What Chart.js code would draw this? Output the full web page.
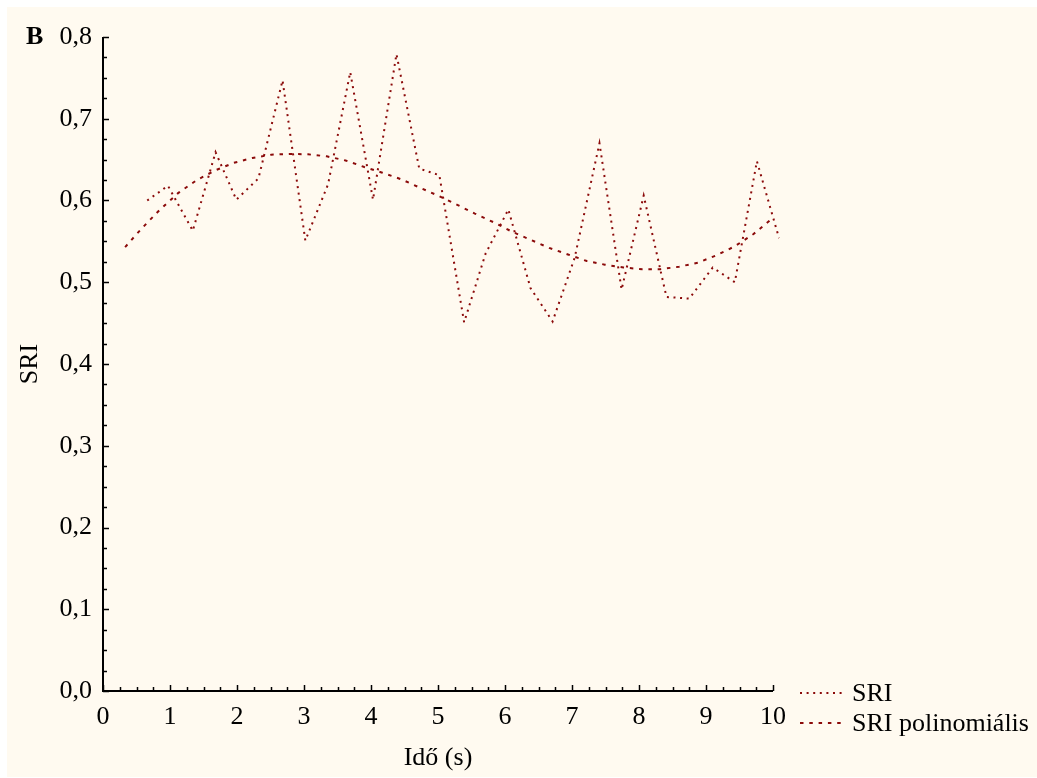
<!DOCTYPE html>
<html>
<head>
<meta charset="utf-8">
<script src="https://cdn.jsdelivr.net/npm/chart.js@4/dist/chart.umd.min.js"></script>
<style>
  html, body { margin: 0; padding: 0; background: #ffffff; }
  #frame {
    position: absolute;
    left: 7px;
    top: 7px;
    width: 1030px;
    height: 770px;
    background: #fffaf0;
  }
</style>
</head>
<body>
<div id="frame"><canvas id="sri-chart" width="1030" height="770"></canvas></div>
<script>
// SRI measured values (time in s)
const sriTime = [0.66, 0.97, 1.34, 1.68, 1.99, 2.32, 2.68, 3.02, 3.36, 3.69, 4.03, 4.38, 4.72, 5.02, 5.39,
  5.71, 6.05, 6.38, 6.71, 7.04, 7.41, 7.74, 8.07, 8.41, 8.75, 9.10, 9.43, 9.76, 10.09];
const sriValues = [0.600, 0.618, 0.563, 0.659, 0.601, 0.627, 0.747, 0.551, 0.620, 0.757, 0.601, 0.779, 0.639, 0.631, 0.451,
  0.535, 0.589, 0.493, 0.452, 0.530, 0.670, 0.491, 0.606, 0.482, 0.480, 0.518, 0.500, 0.648, 0.554];

// polynomial fit
const polyTime = [0.33, 0.58, 0.84, 1.12, 1.40, 1.68, 1.95, 2.23, 2.51, 2.78, 3.06, 3.34, 3.62, 3.90, 4.17, 4.45, 4.72, 5.00,
  5.28, 5.55, 5.84, 6.10, 6.38, 6.66, 6.94, 7.22, 7.49, 7.77, 8.05, 8.32, 8.60, 8.88, 9.16, 9.43, 9.71, 10.0];
const polyValues = [0.543, 0.566, 0.588, 0.609, 0.625, 0.637, 0.646, 0.652, 0.656, 0.657, 0.6565, 0.654, 0.649, 0.641, 0.634, 0.626, 0.616, 0.606,
  0.595, 0.584, 0.573, 0.562, 0.552, 0.542, 0.534, 0.526, 0.5215, 0.518, 0.516, 0.516, 0.519, 0.524, 0.533, 0.544, 0.559, 0.579];

const seriesLabels = ["SRI", "SRI polinomiális"];
const xTitle = "Idő (s)";
const yTitle = "SRI";
const panelLetter = "B";

const lineColor = "#8b0a0a";
const serif = "'Liberation Serif', 'Times New Roman', serif";

function toPoints(xs, ys) {
  return xs.map(function (t, i) {
    return { x: t, y: ys[i] };
  });
}

// inward ticks, axis lines, panel letter and legend
const decorPlugin = {
  id: "decor",
  afterDraw: function (chart) {
    const ctx = chart.ctx;
    const a = chart.chartArea;
    const xs = chart.scales.x;
    const ys = chart.scales.y;
    ctx.save();
    ctx.strokeStyle = "#000";
    ctx.lineWidth = 2;
    ctx.beginPath();
    ctx.moveTo(a.left, a.top);
    ctx.lineTo(a.left, a.bottom);
    ctx.lineTo(a.right, a.bottom);
    ctx.stroke();

    ctx.lineWidth = 1.5;
    ctx.beginPath();
    for (let i = 0; i <= 40; i++) {
      const px = Math.round(xs.getPixelForValue(i * 0.25)) + 0.5;
      const len = i % 4 === 0 ? 6 : 4;
      ctx.moveTo(px, a.bottom);
      ctx.lineTo(px, a.bottom - len);
    }
    for (let i = 0; i <= 32; i++) {
      const py = Math.round(ys.getPixelForValue(i * 0.025)) + 0.5;
      const len = i % 4 === 0 ? 6 : 4;
      ctx.moveTo(a.left, py);
      ctx.lineTo(a.left + len, py);
    }
    ctx.stroke();

    ctx.fillStyle = "#000";
    ctx.font = "bold 26px " + serif;
    ctx.textBaseline = "alphabetic";
    ctx.textAlign = "left";
    ctx.fillText(panelLetter, 19, 37);

    // legend
    const rows = [686, 716];
    chart.data.datasets.forEach(function (ds, i) {
      ctx.strokeStyle = ds.borderColor;
      ctx.lineWidth = 2;
      ctx.setLineDash(ds.borderDash);
      ctx.beginPath();
      ctx.moveTo(793, rows[i]);
      ctx.lineTo(836, rows[i]);
      ctx.stroke();
      ctx.setLineDash([]);
      ctx.fillStyle = "#000";
      ctx.font = "26px " + serif;
      ctx.textBaseline = "middle";
      ctx.fillText(ds.label, 845, rows[i] + 1);
    });
    ctx.restore();
  },
};

new Chart(document.getElementById("sri-chart"), {
  type: "scatter",
  data: {
    datasets: [
      {
        label: seriesLabels[0],
        data: toPoints(sriTime, sriValues),
        showLine: true,
        borderColor: lineColor,
        borderWidth: 2,
        borderDash: [2, 4.6],
        pointRadius: 0,
        clip: false,
      },
      {
        label: seriesLabels[1],
        data: toPoints(polyTime, polyValues),
        showLine: true,
        borderColor: lineColor,
        borderWidth: 2,
        borderDash: [3.5, 5.8],
        pointRadius: 0,
        clip: false,
      },
    ],
  },
  options: {
    responsive: false,
    animation: false,
    layout: { padding: { left: 0, top: 30, right: 264, bottom: 0 } },
    plugins: {
      legend: { display: false },
      tooltip: { enabled: false },
    },
    scales: {
      x: {
        type: "linear",
        min: 0,
        max: 10,
        grid: { display: false, drawTicks: false },
        border: { display: false },
        ticks: {
          stepSize: 1,
          padding: 11,
          color: "#000",
          maxRotation: 0,
          font: { family: serif, size: 26 },
        },
        title: {
          display: true,
          text: xTitle,
          color: "#000",
          font: { family: serif, size: 26 },
          padding: { top: 0, bottom: 3 },
        },
        afterFit: function (scale) {
          scale.height = 86;
        },
      },
      y: {
        type: "linear",
        min: 0,
        max: 0.8,
        grid: { display: false, drawTicks: false },
        border: { display: false },
        ticks: {
          stepSize: 0.1,
          padding: 11,
          color: "#000",
          font: { family: serif, size: 26 },
          callback: function (v) {
            return v.toFixed(1).replace(".", ",");
          },
        },
        title: {
          display: true,
          text: yTitle,
          color: "#000",
          font: { family: serif, size: 26 },
          padding: { top: 8, bottom: 0 },
        },
        afterFit: function (scale) {
          scale.width = 96;
        },
      },
    },
  },
  plugins: [decorPlugin],
});
</script>
</body>
</html>
